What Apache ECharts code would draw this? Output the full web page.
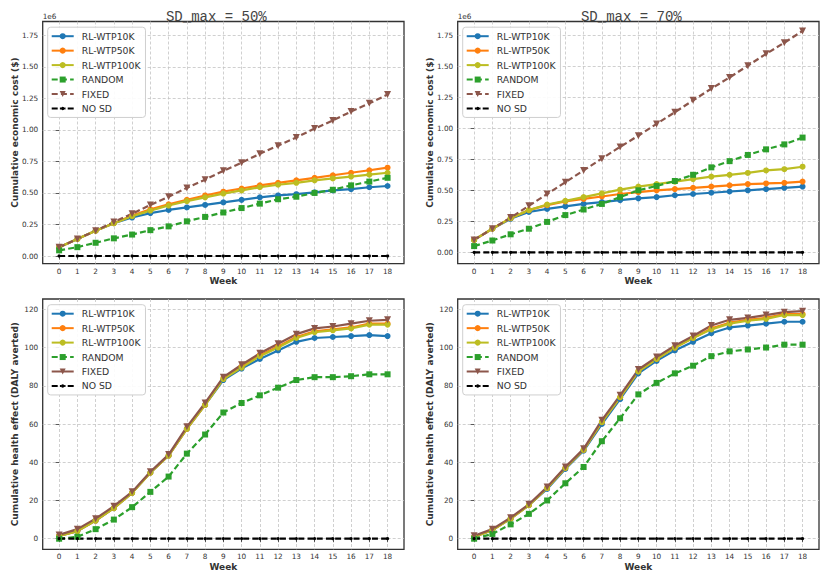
<!DOCTYPE html>
<html>
<head>
<meta charset="utf-8">
<script src="https://cdn.jsdelivr.net/npm/echarts@6/dist/echarts.min.js"></script>
<style>html,body{margin:0;padding:0;background:#fff}#c{width:831px;height:585px}</style>
</head>
<body>
<div id="c"></div>
<script>
// ---------- DATA ----------
const weeks = [0,1,2,3,4,5,6,7,8,9,10,11,12,13,14,15,16,17,18];
const seriesNames = ['RL-WTP10K','RL-WTP50K','RL-WTP100K','RANDOM','FIXED','NO SD'];
const panelTitles = ['SD_max = 50%','SD_max = 70%'];
const costTicks = [0,0.25,0.5,0.75,1.0,1.25,1.5,1.75];   // ×1e6 $
const healthTicks = [0,20,40,60,80,100,120];

// Cumulative economic cost (×1e6 $), SD_max = 50%
const c50_rl10   = [0.07,0.135,0.2,0.26,0.305,0.34,0.365,0.385,0.405,0.425,0.445,0.465,0.48,0.49,0.505,0.52,0.53,0.545,0.555];
const c50_rl50   = [0.07,0.135,0.2,0.26,0.32,0.37,0.41,0.445,0.48,0.51,0.535,0.56,0.58,0.60,0.62,0.64,0.66,0.68,0.70];
const c50_rl100  = [0.07,0.135,0.2,0.26,0.315,0.36,0.40,0.435,0.465,0.495,0.52,0.545,0.565,0.58,0.60,0.615,0.63,0.645,0.66];
const c50_random = [0.045,0.07,0.105,0.14,0.17,0.205,0.235,0.275,0.31,0.345,0.38,0.415,0.45,0.47,0.50,0.525,0.56,0.59,0.62];
const c50_fixed  = [0.07,0.135,0.2,0.27,0.335,0.405,0.47,0.54,0.605,0.675,0.74,0.81,0.875,0.94,1.01,1.075,1.145,1.21,1.28];
const c50_nosd   = [0,0,0,0,0,0,0,0,0,0,0,0,0,0,0,0,0,0,0];

// Cumulative economic cost (×1e6 $), SD_max = 70%
const c70_rl10   = [0.10,0.19,0.27,0.325,0.35,0.37,0.39,0.405,0.42,0.435,0.445,0.46,0.47,0.48,0.49,0.50,0.51,0.52,0.53];
const c70_rl50   = [0.10,0.19,0.275,0.34,0.38,0.41,0.43,0.45,0.47,0.485,0.50,0.51,0.52,0.53,0.54,0.55,0.555,0.56,0.57];
const c70_rl100  = [0.10,0.19,0.275,0.34,0.385,0.415,0.445,0.475,0.505,0.53,0.55,0.57,0.59,0.61,0.625,0.64,0.66,0.67,0.69];
const c70_random = [0.05,0.095,0.145,0.19,0.245,0.30,0.345,0.39,0.445,0.50,0.535,0.575,0.625,0.685,0.735,0.785,0.83,0.87,0.925];
const c70_fixed  = [0.10,0.19,0.28,0.375,0.47,0.565,0.66,0.755,0.85,0.94,1.035,1.13,1.225,1.32,1.41,1.505,1.60,1.69,1.785];
const c70_nosd   = [0,0,0,0,0,0,0,0,0,0,0,0,0,0,0,0,0,0,0];

// Cumulative health effect (DALY averted), SD_max = 50%
const h50_rl10   = [1.5,4,9.5,16,24,34.5,43.5,57.5,70,83,89,94,98.5,103,105,105.5,106,106.5,106];
const h50_rl50   = [1.5,4,9.5,16,24,34.5,43.5,57.5,70,84,90,96,100.5,105.5,108.5,109.5,110.5,112.5,112.5];
const h50_rl100  = [1.5,4,9.5,16,24,34.5,43.5,57.5,70,83.5,89.5,95.5,100,105,108,109,110,112,112];
const h50_random = [0,1,5,10,16.5,24.5,32.5,44.5,54.5,66,71,75,79,83,84.5,84.5,85,86,86];
const h50_fixed  = [2,5,10.5,17,24.5,35,44,58.5,71,84.5,91,97,102,107,110,111,112.5,114,114.5];
const h50_nosd   = [0,0,0,0,0,0,0,0,0,0,0,0,0,0,0,0,0,0,0];

// Cumulative health effect (DALY averted), SD_max = 70%
const h70_rl10   = [1,4.5,10.5,17.5,26,36.5,46,60,73,86.5,93,98.5,103,107.5,110.5,111.5,112.5,113.5,113.5];
const h70_rl50   = [1,4.5,10.5,17.5,26.5,37,46.5,61,74,87.5,94,100,105,110,113,114.5,115.5,117.5,117.5];
const h70_rl100  = [1,4.5,10.5,17.5,26.5,37,46.5,61,74,87.5,94,100,105,109.5,112.5,114,115,117,117];
const h70_random = [0,2.5,7.5,13,20,29,37.5,51,63,75.5,81.5,86.5,90.5,95.5,98,99,100,101.5,101.5];
const h70_fixed  = [1.5,5,11,18,27,37.5,47,62,75,88.5,95,101,106,111.5,114.5,115.5,117,118.5,119];
const h70_nosd   = [0,0,0,0,0,0,0,0,0,0,0,0,0,0,0,0,0,0,0];

// ---------- LAYOUT / STYLE ----------
const panels = [
  {data:[c50_rl10,c50_rl50,c50_rl100,c50_random,c50_fixed,c50_nosd], grid:{left:42.7,top:21.5,width:361.3,height:242.2}, y:[-0.061,1.859], ticks:costTicks, fmt:v=>v.toFixed(2), fixedDashed:true, yLabelShift:-10},
  {data:[c70_rl10,c70_rl50,c70_rl100,c70_random,c70_fixed,c70_nosd], grid:{left:457.7,top:21.5,width:361.3,height:242.2}, y:[-0.092,1.861], ticks:costTicks, fmt:v=>v.toFixed(2), fixedDashed:true, yLabelShift:-10},
  {data:[h50_rl10,h50_rl50,h50_rl100,h50_random,h50_fixed,h50_nosd], grid:{left:42.7,top:299,width:361.3,height:250.3}, y:[-5.54,125.39], ticks:healthTicks, fmt:v=>String(Math.round(v)), fixedDashed:false, yLabelShift:0},
  {data:[h70_rl10,h70_rl50,h70_rl100,h70_random,h70_fixed,h70_nosd], grid:{left:457.7,top:299,width:361.3,height:250.3}, y:[-5.54,125.39], ticks:healthTicks, fmt:v=>String(Math.round(v)), fixedDashed:false, yLabelShift:0}
];
const colors = ['#1f77b4','#ff7f0e','#bcbd22','#2ca02c','#8c564b','#000000'];
const symbols = ['circle','circle','circle','rect','triangle','circle'];
const symSizes = [6,6,6,6,7,3.2];
const rot = [0,0,0,0,180,0];
const textColor = '#333333';
const FONT = 'DejaVu Sans';
// legend icon for the "NO SD" entry: dashed line with a small dot (22 x 7.5 box)
const noSdIcon = 'path://M0,0M22,7.5M0,2.7L6,2.7L6,4.8L0,4.8ZM16,2.7L22,2.7L22,4.8L16,4.8ZM8.2,2.7L9.4,2.7L9.4,4.8L8.2,4.8ZM12.6,2.7L13.8,2.7L13.8,4.8L12.6,4.8ZM9.3,3.75A1.7,1.7,0,1,1,12.7,3.75A1.7,1.7,0,1,1,9.3,3.75Z';

const grids=[], xAxes=[], yAxes=[], series=[], legends=[];
panels.forEach((p,pi)=>{
  grids.push(Object.assign({show:true, borderColor:'#333', borderWidth:1.3, backgroundColor:'#fff'}, p.grid));
  xAxes.push({type:'value', gridIndex:pi, min:-0.9, max:18.9,
    axisLine:{show:false},
    axisTick:{show:true, length:3.5, customValues:weeks, lineStyle:{color:'#333', width:0.8}},
    axisLabel:{customValues:weeks, margin:4, fontSize:7.3, fontFamily:FONT, color:textColor, formatter:v=>String(v)},
    splitLine:{show:true, lineStyle:{color:'#c4c4c4', width:0.8, type:[3,2]}}
  });
  yAxes.push({type:'value', gridIndex:pi, min:p.y[0], max:p.y[1],
    axisLine:{show:false},
    axisTick:{show:true, length:3.5, customValues:p.ticks, lineStyle:{color:'#333', width:0.8}},
    axisLabel:{customValues:p.ticks, margin:4.5, fontSize:7.3, fontFamily:FONT, color:textColor, formatter:p.fmt},
    splitLine:{show:true, lineStyle:{color:'#c4c4c4', width:0.8, type:[3,2]}}
  });
  const names=[];
  p.data.forEach((arr,si)=>{
    const nm = seriesNames[si]+'#'+pi;
    names.push(si===5 ? {name:nm, icon:noSdIcon} : nm);
    const dashed = (si===3 || si===5 || (si===4 && p.fixedDashed));
    series.push({
      type:'line', name:nm, xAxisIndex:pi, yAxisIndex:pi,
      data: weeks.map((w,i)=>[w,arr[i]]),
      symbol:symbols[si], symbolSize:symSizes[si], symbolRotate:rot[si], showSymbol:true,
      lineStyle:{color:colors[si], width:2.2, type: dashed?[6,3.2]:'solid'},
      itemStyle:{color:colors[si]},
      emphasis:{disabled:true}, animation:false, clip:false
    });
  });
  legends.push({
    data:names, orient:'vertical', left:p.grid.left+5, top:p.grid.top+5.7,
    itemWidth:22, itemHeight:7.5, itemGap:4.45,
    padding:[4,5,4,3], backgroundColor:'rgba(255,255,255,0.9)',
    borderColor:'#cfcfcf', borderWidth:1, borderRadius:3,
    formatter: n => n.split('#')[0],
    textStyle:{fontSize:9.3, fontFamily:FONT, color:textColor, lineHeight:10, padding:[0,0,0,3]},
    selectedMode:false
  });
});

const graphics = [];
const yNames = ['Cumulative economic cost ($)','Cumulative economic cost ($)','Cumulative health effect (DALY averted)','Cumulative health effect (DALY averted)'];
panels.forEach((p,pi)=>{
  const g=p.grid;
  graphics.push({type:'text', x:g.left-27.7, y:g.top+g.height/2+p.yLabelShift, rotation:Math.PI/2,
    style:{text:yNames[pi], fontSize:9, fontWeight:'bold', fontFamily:FONT, fill:textColor, align:'center', verticalAlign:'middle'}});
  graphics.push({type:'text', x:g.left+g.width/2, y:g.top+g.height+17.5,
    style:{text:'Week', fontSize:9, fontWeight:'bold', fontFamily:FONT, fill:textColor, align:'center', verticalAlign:'middle'}});
});
[0,1].forEach(pi=>{
  const g=panels[pi].grid;
  graphics.push({type:'text', x:g.left, y:g.top-1.5,
    style:{text:'1e6', fontSize:7.3, fontFamily:FONT, fill:textColor, align:'left', verticalAlign:'bottom'}});
  graphics.push({type:'text', x:g.left+g.width/2-7, y:10,
    style:{text:panelTitles[pi], fontSize:14, fontFamily:'Liberation Mono', fill:'#444', align:'center', verticalAlign:'alphabetic'}});
});

const chart = echarts.init(document.getElementById('c'), null, {renderer:'svg'});
chart.setOption({
  animation:false,
  grid:grids, xAxis:xAxes, yAxis:yAxes, series:series, legend:legends, graphic:graphics
});
</script>
</body>
</html>
